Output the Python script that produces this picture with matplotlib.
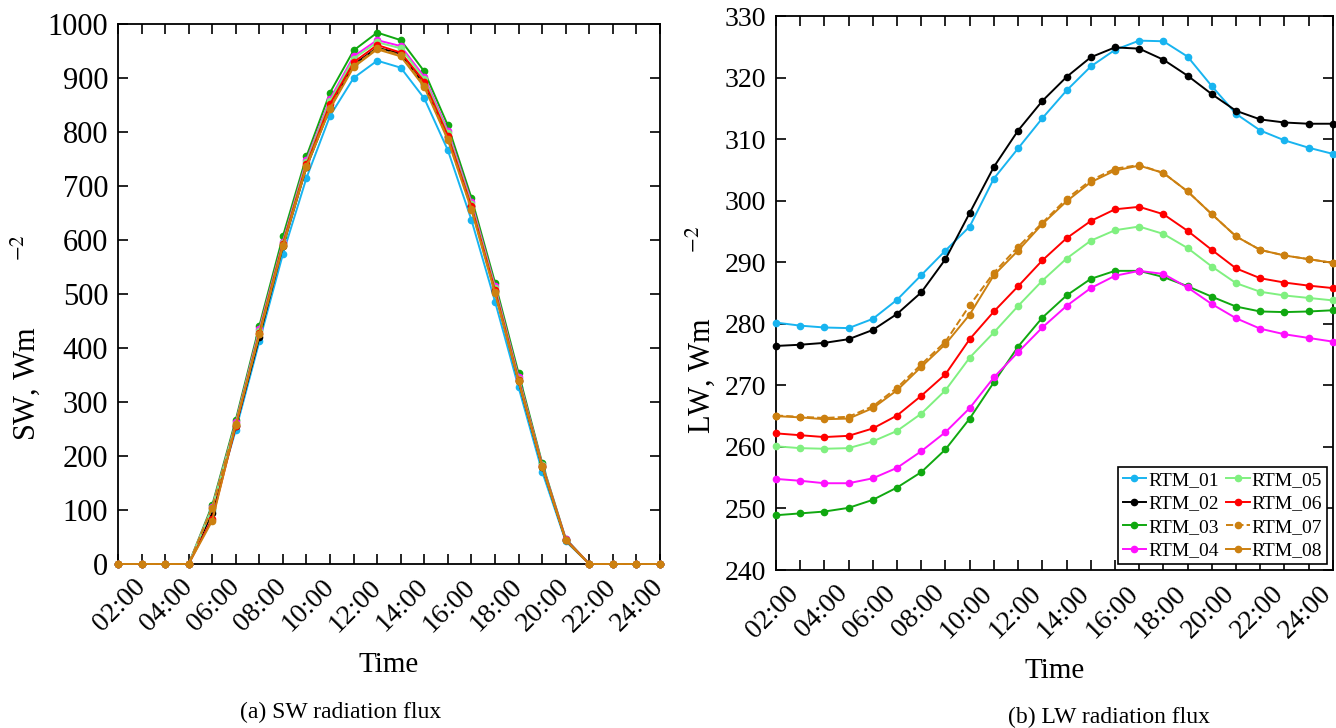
import matplotlib
matplotlib.use("Agg")
import matplotlib.pyplot as plt
from matplotlib.ticker import MultipleLocator
from matplotlib.transforms import ScaledTranslation

plt.rcParams['font.family'] = ['Liberation Serif', 'DejaVu Serif']
plt.rcParams['mathtext.fontset'] = 'stix'

hours = list(range(1, 25))
tick_hours = list(range(2, 25, 2))
tick_labels = ['%02d:00' % h for h in tick_hours]

names = ['RTM_01', 'RTM_02', 'RTM_03', 'RTM_04', 'RTM_05', 'RTM_06', 'RTM_07', 'RTM_08']
colors = ['#18b4f0', 'black', '#10a810', '#ff10ff', '#80f080', '#ff0000', '#cc8010', '#cc8010']
styles = ['-', '-', '-', '-', '-', '-', '--', '-']

# shortwave flux, W m-2
sw_01 = [0, 0, 0, 0, 100, 248, 412, 574, 715, 830, 900, 932, 919, 862, 766, 637, 486, 327, 171, 42, 0, 0, 0, 0]
sw_02 = [0, 0, 0, 0, 95, 255, 420, 588, 735, 845, 925, 956, 945, 888, 790, 662, 505, 338, 180, 44, 0, 0, 0, 0]
sw_03 = [0, 0, 0, 0, 109, 267, 441, 607, 755, 873, 951, 984, 970, 912, 812, 678, 521, 353, 187, 47, 0, 0, 0, 0]
sw_04 = [0, 0, 0, 0, 105, 262, 435, 597, 748, 861, 940, 970, 959, 902, 802, 670, 514, 346, 184, 46, 0, 0, 0, 0]
sw_05 = [0, 0, 0, 0, 104, 260, 432, 595, 745, 857, 936, 966, 955, 898, 798, 666, 511, 343, 183, 45, 0, 0, 0, 0]
sw_06 = [0, 0, 0, 0, 84, 255, 428, 593, 740, 852, 929, 961, 947, 893, 793, 662, 507, 340, 182, 45, 0, 0, 0, 0]
sw_07 = [0, 0, 0, 0, 104, 259, 425, 590, 737, 845, 922, 955, 942, 886, 787, 658, 503, 339, 181, 44, 0, 0, 0, 0]
sw_08 = [0, 0, 0, 0, 80, 258, 425, 589, 735, 843, 920, 953, 940, 883, 785, 656, 501, 338, 180, 44, 0, 0, 0, 0]

# longwave flux, W m-2
lw_01 = [280.2, 279.7, 279.4, 279.3, 280.8, 283.9, 287.9, 291.9, 295.8, 303.6, 308.5, 313.4,
         317.9, 321.8, 324.5, 326.0, 325.9, 323.4, 318.6, 314.1, 311.4, 309.8, 308.6, 307.6]
lw_02 = [276.4, 276.6, 276.9, 277.5, 279.0, 281.6, 285.1, 290.5, 298.0, 305.5, 311.4, 316.2,
         320.1, 323.3, 324.9, 324.7, 322.9, 320.3, 317.3, 314.6, 313.2, 312.7, 312.5, 312.5]
lw_03 = [248.9, 249.2, 249.5, 250.1, 251.4, 253.4, 255.9, 259.6, 264.6, 270.5, 276.3, 281.0,
         284.6, 287.3, 288.6, 288.6, 287.6, 286.1, 284.4, 282.8, 282.0, 281.9, 282.0, 282.2]
lw_04 = [254.8, 254.5, 254.1, 254.1, 254.9, 256.6, 259.3, 262.4, 266.3, 271.3, 275.4, 279.4,
         282.9, 285.8, 287.8, 288.6, 288.1, 285.9, 283.2, 280.9, 279.2, 278.3, 277.7, 277.1]
lw_05 = [260.1, 259.8, 259.7, 259.8, 260.9, 262.6, 265.4, 269.2, 274.5, 278.6, 282.9, 287.0,
         290.6, 293.5, 295.2, 295.8, 294.6, 292.3, 289.3, 286.6, 285.2, 284.6, 284.2, 283.8]
lw_06 = [262.2, 261.9, 261.6, 261.8, 263.0, 265.1, 268.3, 271.8, 277.5, 282.0, 286.1, 290.3,
         293.9, 296.7, 298.6, 299.0, 297.8, 295.1, 292.0, 289.0, 287.4, 286.7, 286.2, 285.8]
lw_07 = [265.1, 264.9, 264.7, 264.9, 266.6, 269.6, 273.4, 277.1, 283.0, 288.3, 292.5, 296.4,
         300.3, 303.3, 305.2, 305.8, 304.5, 301.5, 297.8, 294.2, 292.0, 291.1, 290.5, 289.9]
lw_08 = [265.0, 264.8, 264.5, 264.6, 266.3, 269.2, 273.0, 276.7, 281.5, 287.9, 291.9, 296.2,
         299.9, 303.0, 304.9, 305.7, 304.5, 301.5, 297.8, 294.2, 292.0, 291.1, 290.5, 289.9]

sw_all = [sw_01, sw_02, sw_03, sw_04, sw_05, sw_06, sw_07, sw_08]
lw_all = [lw_01, lw_02, lw_03, lw_04, lw_05, lw_06, lw_07, lw_08]

fig = plt.figure(figsize=(13.36, 7.28), dpi=100)
ax1 = fig.add_axes([0.0883, 0.2253, 0.4057, 0.7418])
ax2 = fig.add_axes([0.5808, 0.2170, 0.4169, 0.7610])


def style_axis(ax, ysize):
    ax.set_xlim(1, 24)
    ax.set_xticks(tick_hours)
    ax.set_xticklabels(tick_labels, rotation=45, ha='right', va='center',
                       rotation_mode='anchor', fontsize=20)
    ax.xaxis.set_minor_locator(MultipleLocator(1))
    ax.tick_params(which='both', direction='in', top=True, right=True, width=1.2, length=7)
    ax.tick_params(axis='y', labelsize=ysize, pad=7)
    ax.tick_params(axis='x', pad=14)
    for sp in ax.spines.values():
        sp.set_linewidth(1.3)
    ax.set_xlabel('Time', fontsize=21, labelpad=11)


for i in range(8):
    ax1.plot(hours, sw_all[i], color=colors[i], ls=styles[i], marker='o', ms=4.5, lw=1.4,
             label=names[i], clip_on=False, zorder=3)
    ax2.plot(hours, lw_all[i], color=colors[i], ls=styles[i], marker='o', ms=4.5, lw=1.4,
             label=names[i], clip_on=False, zorder=3)

style_axis(ax1, 22)
ax1.set_ylim(0, 1000)
ax1.yaxis.set_major_locator(MultipleLocator(100))
ax1.set_ylabel(r'SW, Wm$\qquad\quad{}^{-2}$', fontsize=22)
ax1.yaxis.set_label_coords(-0.14, 0.42)

style_axis(ax2, 20)
ax2.set_ylim(240, 330)
ax2.yaxis.set_major_locator(MultipleLocator(10))
ax2.set_ylabel(r'LW, Wm$\qquad\quad{}^{-2}$', fontsize=22)
ax2.yaxis.set_label_coords(-0.106, 0.433)

# nudge the right panel's date labels so the last one stays inside the figure
shift = ScaledTranslation(-5 / 100, 0, fig.dpi_scale_trans)
for lbl in ax2.get_xticklabels():
    lbl.set_transform(lbl.get_transform() + shift)

leg = ax2.legend(loc='lower right', ncol=2, fontsize=14, handlelength=1.2, handletextpad=0.1,
                 columnspacing=0.4, labelspacing=0.3, borderpad=0.25, fancybox=False,
                 framealpha=1, borderaxespad=0.3)
leg.get_frame().set_edgecolor('black')
leg.get_frame().set_linewidth(1.2)

fig.text(0.255, 0.022, '(a) SW radiation flux', ha='center', va='center', fontsize=17)
fig.text(0.83, 0.015, '(b) LW radiation flux', ha='center', va='center', fontsize=17)

fig.savefig('out.png', dpi=100)
